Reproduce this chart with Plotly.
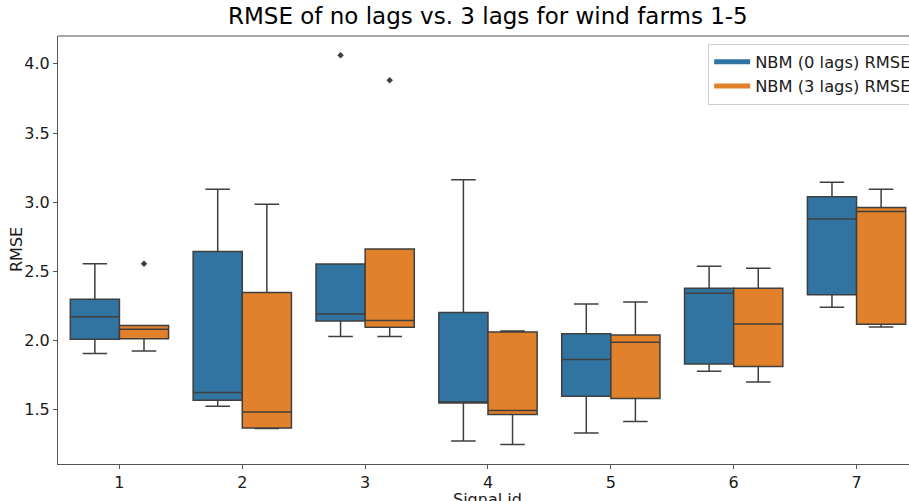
import plotly.graph_objects as go

# ---- data ----
signal_ids = [1, 2, 3, 4, 5, 6, 7]
series_names = ["NBM (0 lags) RMSE", "NBM (3 lags) RMSE"]

lag0_lower = [1.906, 1.525, 2.029, 1.275, 1.332, 1.778, 2.241]
lag0_q1 = [2.009, 1.569, 2.142, 1.548, 1.598, 1.831, 2.332]
lag0_median = [2.173, 1.624, 2.192, 1.552, 1.863, 2.342, 2.879]
lag0_q3 = [2.298, 2.643, 2.554, 2.202, 2.050, 2.378, 3.040]
lag0_upper = [2.556, 3.093, 2.554, 3.163, 2.265, 2.537, 3.144]
lag0_outlier_ids = [3]
lag0_outliers = [4.061]

lag3_lower = [1.925, 1.365, 2.029, 1.249, 1.415, 1.701, 2.098]
lag3_q1 = [2.014, 1.369, 2.096, 1.465, 1.581, 1.812, 2.118]
lag3_median = [2.082, 1.484, 2.145, 1.494, 1.988, 2.120, 2.932]
lag3_q3 = [2.108, 2.347, 2.662, 2.062, 2.041, 2.378, 2.961]
lag3_upper = [2.108, 2.985, 2.662, 2.069, 2.279, 2.522, 3.093]
lag3_outlier_ids = [1, 3]
lag3_outliers = [2.556, 3.881]

y_ticks = [1.5, 2.0, 2.5, 3.0, 3.5, 4.0]

# ---- style ----
colors = ["#3274a1", "#e1812c"]
edge = "#3f3f3f"
font_family = "DejaVu Sans"
box_width = 0.4
offsets = [-0.2, 0.2]

fig = go.Figure()

stats = [
    (lag0_lower, lag0_q1, lag0_median, lag0_q3, lag0_upper, lag0_outlier_ids, lag0_outliers),
    (lag3_lower, lag3_q1, lag3_median, lag3_q3, lag3_upper, lag3_outlier_ids, lag3_outliers),
]

for i, (lo, q1, med, q3, up, oid, ov) in enumerate(stats):
    fig.add_trace(go.Box(
        x=[s + offsets[i] for s in signal_ids],
        lowerfence=lo, q1=q1, median=med, q3=q3, upperfence=up,
        width=box_width,
        fillcolor=colors[i],
        line=dict(color=edge, width=1.5),
        whiskerwidth=0.5,
        boxpoints=False,
        showlegend=False,
        name=series_names[i],
    ))
    fig.add_trace(go.Scatter(
        x=[s + offsets[i] for s in oid], y=ov,
        mode="markers",
        marker=dict(symbol="diamond", size=5, color=edge),
        showlegend=False,
        hoverinfo="y",
    ))
    # legend swatch
    fig.add_trace(go.Scatter(
        x=[None], y=[None], mode="lines",
        line=dict(color=colors[i], width=11),
        name=series_names[i],
        showlegend=True,
    ))

fig.update_layout(
    width=909, height=501,
    margin=dict(l=58, r=0, t=36, b=37, autoexpand=False),
    paper_bgcolor="white", plot_bgcolor="white",
    font=dict(family=font_family, color="#1a1a1a", size=16),
    showlegend=True,
    legend=dict(
        x=0.764, y=0.982, xanchor="left", yanchor="top",
        bgcolor="white", bordercolor="#d0d0d0", borderwidth=1,
        font=dict(size=16.3, family=font_family),
        tracegroupgap=0, itemsizing="constant", itemwidth=36,
    ),
    annotations=[
        dict(text="RMSE of no lags vs. 3 lags for wind farms 1-5",
             xref="paper", yref="paper", x=0.505, y=1.0, yshift=5,
             xanchor="center", yanchor="bottom", showarrow=False,
             font=dict(size=23, family=font_family, color="#000")),
        dict(text="Signal id", xref="paper", yref="paper", x=0.505, y=0,
             yshift=-24, xanchor="center", yanchor="top", showarrow=False,
             font=dict(size=16, family=font_family, color="#1a1a1a")),
        dict(text="RMSE", xref="paper", yref="paper", x=0, xshift=-42, y=0.5,
             textangle=-90, xanchor="center", yanchor="middle", showarrow=False,
             font=dict(size=16, family=font_family, color="#1a1a1a")),
    ],
    shapes=[
        dict(type="line", xref="paper", yref="paper", x0=0, x1=1, y0=1, y1=1,
             line=dict(color="#555555", width=1)),
    ],
)

fig.update_xaxes(
    range=[0.5, 7.427],
    tickvals=signal_ids, ticktext=[str(s) for s in signal_ids],
    showgrid=False, zeroline=False,
    showline=True, linecolor="#555555", linewidth=1,
    ticks="outside", ticklen=4, tickcolor="#555555",
    tickfont=dict(size=16),
)
fig.update_yaxes(
    range=[1.108, 4.201],
    tickvals=y_ticks, ticktext=[f"{v:.1f}" for v in y_ticks],
    showgrid=False, zeroline=False,
    showline=True, linecolor="#555555", linewidth=1,
    ticks="outside", ticklen=4, tickcolor="#555555",
    tickfont=dict(size=16),
)

fig.write_html("out.html")
